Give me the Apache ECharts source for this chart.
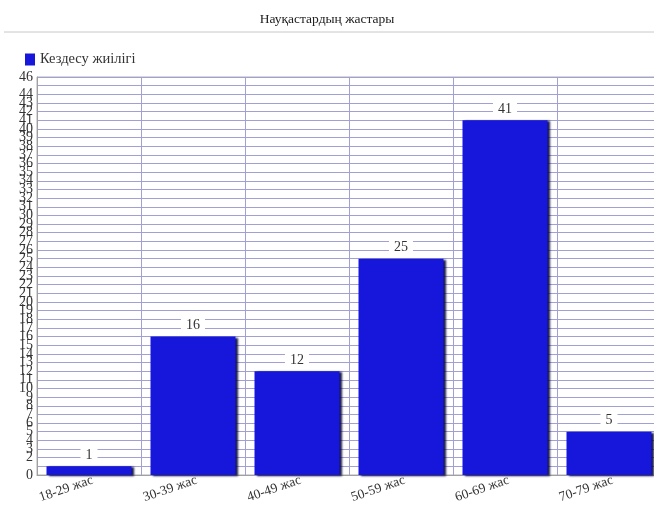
<!DOCTYPE html>
<html>
<head>
<meta charset="utf-8">
<script src="https://cdn.jsdelivr.net/npm/echarts@6/dist/echarts.min.js"></script>
<style>html,body{margin:0;padding:0;background:#fff}#c{width:654px;height:507px}</style>
</head>
<body>
<div id="c"></div>
<script>
const categories = ['18-29 жас', '30-39 жас', '40-49 жас', '50-59 жас', '60-69 жас', '70-79 жас'];
const values = [1, 16, 12, 25, 41, 5];
const seriesName = 'Кездесу жиілігі';
const titleText = 'Науқастардың жастары';
const yMin = 0, yMax = 46, yStep = 1;

const FONT = '"Liberation Serif", "Times New Roman", serif';
const chart = echarts.init(document.getElementById('c'), null, {renderer: 'canvas'});
chart.setOption({
  animation: false,
  backgroundColor: '#fff',
  title: {
    text: titleText, left: 'center', top: 7,
    textStyle: {fontFamily: FONT, fontSize: 13.5, fontWeight: 'normal', color: '#222'}
  },
  graphic: [{
    type: 'line', shape: {x1: 4, y1: 32, x2: 654, y2: 32},
    style: {stroke: '#c8c8c8', lineWidth: 1}
  }],
  legend: {
    left: 20, top: 47, itemWidth: 10, itemHeight: 12, itemGap: 6,
    icon: 'rect',
    textStyle: {fontFamily: FONT, fontSize: 14.5, color: '#333'},
    data: [seriesName]
  },
  grid: {left: 37, top: 77, width: 624, bottom: 32, containLabel: false,
    outerBoundsMode: 'none',
    show: true, borderColor: '#b0b0b0', borderWidth: 1, backgroundColor: 'transparent'},
  xAxis: {
    type: 'category', data: categories,
    axisLine: {show: true, lineStyle: {color: '#a0a0a0', width: 1}},
    axisTick: {show: false},
    splitLine: {show: true, lineStyle: {color: '#a0a0d4', width: 1}},
    axisLabel: {rotate: 19, margin: 6, fontFamily: FONT, fontSize: 13.5, color: '#333', interval: 0,
      padding: [0, -4, 0, 0]}
  },
  yAxis: {
    type: 'value', min: yMin, max: yMax, interval: yStep,
    axisLine: {show: true, lineStyle: {color: '#a0a0a0'}},
    axisTick: {show: false},
    splitLine: {show: true, lineStyle: {color: '#a0a0d4', width: 1}},
    axisLabel: {margin: 4, fontFamily: FONT, fontSize: 14, color: '#333', hideOverlap: false,
      showMinLabel: true, showMaxLabel: true}
  },
  series: [{
    name: seriesName, type: 'bar', data: values, barWidth: 85,
    itemStyle: {color: '#1717dc', shadowColor: 'rgba(0,0,60,0.9)', shadowOffsetX: 2, shadowOffsetY: 1, shadowBlur: 2},
    label: {
      show: true, position: 'top', distance: 4,
      fontFamily: FONT, fontSize: 14, color: '#333',
      backgroundColor: '#fff', padding: [1, 5, 0, 5]
    }
  }]
});
</script>
</body>
</html>
